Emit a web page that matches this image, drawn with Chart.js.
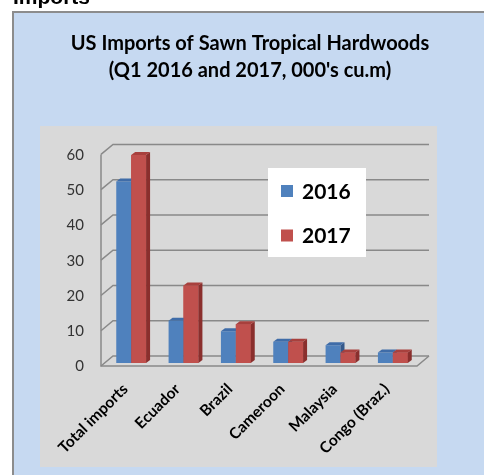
<!DOCTYPE html>
<html>
<head>
<meta charset="utf-8">
<script src="https://cdn.jsdelivr.net/npm/chart.js@4/dist/chart.umd.min.js"></script>
<style>
html,body{margin:0;padding:0;background:#fff;}
canvas{display:block;}
</style>
</head>
<body>
<canvas id="c" width="484" height="475"></canvas>
<script>
const categories = ['Total imports', 'Ecuador', 'Brazil', 'Cameroon', 'Malaysia', 'Congo (Braz.)'];
const imports2016 = [51.5, 12, 9, 6, 5, 3];
const imports2017 = [59, 22, 11, 6, 3, 3];
const seriesLabels = ['2016', '2017'];
const yTicks = [0, 10, 20, 30, 40, 50, 60];
const titleLines = ['US Imports of Sawn Tropical Hardwoods', "(Q1 2016 and 2017, 000's cu.m)"];
const pageHeading = 'Imports';

const FRONT = '#4F81BD', FRONT2 = '#C0504D';
const shade = [
  {top: '#3F6CA8', side: '#35598A'},
  {top: '#A8403D', side: '#8A2F2D'}
];

const backgroundPlugin = {
  id: 'bg',
  beforeDraw(chart) {
    const ctx = chart.ctx;
    ctx.save();
    ctx.fillStyle = '#ffffff';
    ctx.fillRect(0, 0, chart.width, chart.height);
    ctx.fillStyle = '#000';
    ctx.font = 'bold 21px "Liberation Sans", Arial, sans-serif';
    ctx.textBaseline = 'alphabetic';
    ctx.fillText(pageHeading, 13, 4);
    ctx.fillStyle = '#C6D9F1';
    ctx.fillRect(12, 11, chart.width - 12, chart.height - 11);
    ctx.strokeStyle = '#8C8C8C';
    ctx.lineWidth = 2;
    ctx.strokeRect(13, 12, chart.width, chart.height);
    ctx.fillStyle = '#D9D9D9';
    ctx.fillRect(40, 126, 397, 341);
    ctx.restore();
  }
};

const gridPlugin = {
  id: 'grid3d',
  beforeDatasetsDraw(chart) {
    const ctx = chart.ctx, ys = chart.scales.y, ca = chart.chartArea;
    const frontX = ca.left - 4, backX = frontX + 12, rightBack = ca.right + 10;
    ctx.save();
    ctx.strokeStyle = '#898989';
    ctx.lineWidth = 1.5;
    yTicks.forEach(v => {
      const yp = ys.getPixelForValue(v);
      ctx.beginPath();
      ctx.moveTo(frontX, yp + 3);
      ctx.lineTo(backX, yp - 7);
      ctx.lineTo(rightBack, yp - 7);
      ctx.stroke();
    });
    const y0 = ys.getPixelForValue(0), yTop = ys.getPixelForValue(yTicks[yTicks.length - 1]);
    ctx.beginPath();
    ctx.moveTo(frontX, yTop + 3);
    ctx.lineTo(frontX, y0 + 3);
    ctx.lineTo(ca.right - 2, y0 + 3);
    ctx.lineTo(rightBack, y0 - 7);
    ctx.stroke();
    ctx.restore();
  }
};

function drawFaces(ctx, el, s) {
  const dx = 4, dy = -3;
  const p = el.getProps(['x', 'y', 'width', 'base'], true);
  const l = p.x - p.width / 2, r = p.x + p.width / 2;
  ctx.fillStyle = s.side;
  ctx.beginPath();
  ctx.moveTo(r, p.y); ctx.lineTo(r + dx, p.y + dy); ctx.lineTo(r + dx, p.base + dy); ctx.lineTo(r, p.base);
  ctx.closePath(); ctx.fill();
  ctx.fillStyle = s.top;
  ctx.beginPath();
  ctx.moveTo(l, p.y); ctx.lineTo(l + dx, p.y + dy); ctx.lineTo(r + dx, p.y + dy); ctx.lineTo(r, p.y);
  ctx.closePath(); ctx.fill();
}

const bar3dPlugin = {
  id: 'bar3d',
  afterDatasetsDraw(chart) {
    const ctx = chart.ctx;
    ctx.save();
    chart.data.datasets.forEach((ds, i) => {
      const meta = chart.getDatasetMeta(i);
      meta.data.forEach(el => {
        if (i > 0) el.draw(ctx);
        drawFaces(ctx, el, shade[i]);
      });
    });
    ctx.restore();
  }
};

const legendPlugin = {
  id: 'legendBox',
  afterDraw(chart) {
    const ctx = chart.ctx;
    ctx.save();
    ctx.fillStyle = '#ffffff';
    ctx.fillRect(268, 168, 98, 89);
    ctx.font = 'bold 21px Lato, sans-serif';
    ctx.textBaseline = 'middle';
    ctx.textAlign = 'left';
    chart.data.datasets.forEach((ds, i) => {
      const cy = 191 + i * 44.5;
      ctx.fillStyle = ds.backgroundColor;
      ctx.fillRect(281, cy - 6, 12, 12);
      ctx.fillStyle = '#000';
      ctx.fillText(ds.label, 302, cy + 1);
    });
    ctx.restore();
  }
};

new Chart(document.getElementById('c'), {
  type: 'bar',
  data: {
    labels: categories,
    datasets: [
      {label: seriesLabels[0], data: imports2016, backgroundColor: FRONT},
      {label: seriesLabels[1], data: imports2017, backgroundColor: FRONT2}
    ]
  },
  plugins: [backgroundPlugin, gridPlugin, bar3dPlugin, legendPlugin],
  options: {
    responsive: false,
    animation: false,
    devicePixelRatio: 1,
    layout: {padding: {left: 16, right: 0, top: 0, bottom: 0}},
    datasets: {bar: {categoryPercentage: 0.57, barPercentage: 1, borderWidth: 0}},
    plugins: {
      legend: {display: false},
      tooltip: {enabled: false},
      title: {
        display: true,
        text: titleLines,
        color: '#000',
        font: {family: 'Lato', size: 20, weight: 'bold', lineHeight: 1.36},
        padding: {top: 30, bottom: 67}
      }
    },
    scales: {
      x: {
        grid: {display: false, drawTicks: false},
        border: {display: false},
        ticks: {
          color: '#000',
          font: {family: 'Lato', size: 15.5, weight: 'bold'},
          maxRotation: 45, minRotation: 45, padding: 17, labelOffset: -6, autoSkip: false
        },
        afterFit(s) { s.height = 112; }
      },
      y: {
        min: 0, max: 60,
        grid: {display: false, drawTicks: false},
        border: {display: false},
        ticks: {
          stepSize: 10, color: '#333', padding: 21, labelOffset: 3.5,
          font: {family: 'Lato', size: 15}
        },
        afterFit(s) { s.width = 89; }
      },
      yR: {
        position: 'right',
        display: true,
        grid: {display: false, drawTicks: false},
        border: {display: false},
        ticks: {display: false},
        afterFit(s) { s.width = 65; }
      }
    }
  }
});
</script>
</body>
</html>
